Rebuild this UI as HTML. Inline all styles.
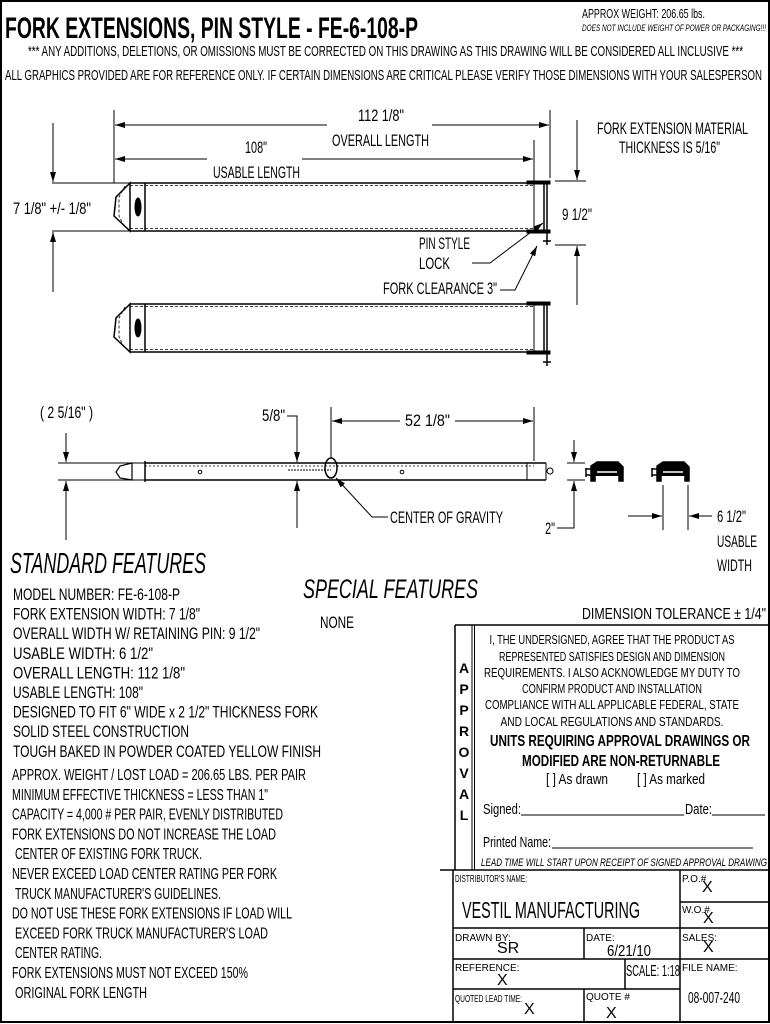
<!DOCTYPE html>
<html><head><meta charset="utf-8"><style>
html,body{margin:0;padding:0;background:#fff}
svg{display:block}
text{font-family:"Liberation Sans Narrow","Liberation Sans",sans-serif;fill:#000}
</style></head><body>
<svg width="770" height="1024" viewBox="0 0 770 1024" xmlns="http://www.w3.org/2000/svg">
<defs>
<marker id="a" viewBox="0 0 10 6" refX="10" refY="3" markerWidth="10" markerHeight="6" orient="auto-start-reverse" markerUnits="userSpaceOnUse"><path d="M0,0 L10,3 L0,6 z" fill="#000"/></marker>
</defs>
<rect x="1" y="1" width="768" height="1021" fill="none" stroke="#000" stroke-width="2"/>

<!-- header -->
<text x="5" y="38" font-size="30" font-weight="bold" textLength="413" lengthAdjust="spacingAndGlyphs">FORK EXTENSIONS, PIN STYLE - FE-6-108-P</text>
<text x="582" y="18" font-size="13" textLength="123" lengthAdjust="spacingAndGlyphs">APPROX WEIGHT: 206.65 lbs.</text>
<text x="582" y="31" font-size="9" font-style="italic" textLength="184" lengthAdjust="spacingAndGlyphs">DOES NOT INCLUDE WEIGHT OF POWER OR PACKAGING!!!</text>
<text x="28" y="56" font-size="15" textLength="715" lengthAdjust="spacingAndGlyphs">*** ANY ADDITIONS, DELETIONS, OR OMISSIONS MUST BE CORRECTED ON THIS DRAWING AS THIS DRAWING WILL BE CONSIDERED ALL INCLUSIVE ***</text>
<text x="5" y="80" font-size="15" textLength="757" lengthAdjust="spacingAndGlyphs">ALL GRAPHICS PROVIDED ARE FOR REFERENCE ONLY. IF CERTAIN DIMENSIONS ARE CRITICAL PLEASE VERIFY THOSE DIMENSIONS WITH YOUR SALESPERSON</text>

<g stroke="#000" fill="none" stroke-width="1">
<line x1="114" y1="110" x2="114" y2="183"/>
<line x1="550" y1="110" x2="550" y2="178"/>
<line x1="534" y1="140" x2="534" y2="183"/>
<line x1="327" y1="125" x2="115" y2="125" marker-end="url(#a)"/>
<line x1="432" y1="125" x2="549" y2="125" marker-end="url(#a)"/>
<line x1="207" y1="159" x2="115" y2="159" marker-end="url(#a)"/>
<line x1="302" y1="159" x2="533" y2="159" marker-end="url(#a)"/>
<line x1="52" y1="183" x2="130" y2="183"/>
<line x1="52" y1="231" x2="130" y2="231"/>
<line x1="53" y1="123" x2="53" y2="182" marker-end="url(#a)"/>
<line x1="53" y1="292" x2="53" y2="232" marker-end="url(#a)"/>
<line x1="555" y1="181" x2="586" y2="181"/>
<line x1="555" y1="245" x2="586" y2="245"/>
<line x1="577" y1="120" x2="577" y2="180" marker-end="url(#a)"/>
<line x1="577" y1="305" x2="577" y2="246" marker-end="url(#a)"/>
<polyline points="472,263 490,263 543,223" marker-end="url(#a)"/>
<polyline points="500,290 515,290 537,246" marker-end="url(#a)"/>
</g>

<g id="fork" stroke="#000" fill="none">
<polygon points="130,183 116,197 114,216 130,231" stroke-width="1.5"/>
<polyline points="125,186 119,197 119,216 125,228" stroke-width="0.8" stroke-dasharray="3,2"/>
<line x1="130" y1="183" x2="534" y2="183" stroke-width="1.5"/>
<line x1="130" y1="185.5" x2="534" y2="185.5" stroke-width="0.8" stroke-dasharray="3,2"/>
<line x1="130" y1="231" x2="534" y2="231" stroke-width="1.5"/>
<line x1="130" y1="228.5" x2="534" y2="228.5" stroke-width="0.8" stroke-dasharray="3,2"/>
<line x1="145" y1="183" x2="145" y2="231" stroke-width="1.5"/>
<ellipse cx="138" cy="207" rx="3" ry="9" fill="#000"/>
<line x1="534" y1="183" x2="534" y2="231" stroke-width="1"/>
<rect x="527" y="181" width="23" height="3" fill="#000"/>
<rect x="527" y="230" width="23" height="3" fill="#000"/>
<line x1="544" y1="181" x2="544" y2="233" stroke-width="1.5"/>
<line x1="547" y1="181" x2="547" y2="245" stroke-width="1.5"/>
<line x1="543" y1="241" x2="551" y2="241" stroke-width="1.5"/>
</g>
<use href="#fork" transform="translate(0,121)"/>

<g font-size="17">
<text x="358" y="121" textLength="46" lengthAdjust="spacingAndGlyphs">112 1/8"</text>
<text x="332" y="146" textLength="97" lengthAdjust="spacingAndGlyphs">OVERALL LENGTH</text>
<text x="245" y="153" textLength="22" lengthAdjust="spacingAndGlyphs">108"</text>
<text x="213" y="178" textLength="87" lengthAdjust="spacingAndGlyphs">USABLE LENGTH</text>
<text x="13" y="214" textLength="78" lengthAdjust="spacingAndGlyphs">7 1/8" +/- 1/8"</text>
<text x="562" y="220" textLength="30" lengthAdjust="spacingAndGlyphs">9 1/2"</text>
<text x="419" y="249" textLength="51" lengthAdjust="spacingAndGlyphs">PIN STYLE</text>
<text x="419" y="269" textLength="31" lengthAdjust="spacingAndGlyphs">LOCK</text>
<text x="383" y="294" textLength="114" lengthAdjust="spacingAndGlyphs">FORK CLEARANCE 3"</text>
<text x="597" y="134" textLength="151" lengthAdjust="spacingAndGlyphs">FORK EXTENSION MATERIAL</text>
<text x="619" y="153" textLength="101" lengthAdjust="spacingAndGlyphs">THICKNESS IS 5/16"</text>
</g>

<g stroke="#000" fill="none" stroke-width="1">
<line x1="58" y1="463" x2="145" y2="463"/>
<line x1="58" y1="480" x2="145" y2="480"/>
<line x1="66" y1="433" x2="66" y2="462" marker-end="url(#a)"/>
<line x1="66" y1="540" x2="66" y2="481" marker-end="url(#a)"/>
<polygon points="132,463 120,466 116,472 120,478 132,480" stroke-width="1.2"/>
<line x1="132" y1="463" x2="132" y2="480"/>
<line x1="145" y1="461" x2="145" y2="482" stroke-width="1.5"/>
<line x1="145" y1="463" x2="534" y2="463" stroke-width="1.5"/>
<line x1="145" y1="466" x2="534" y2="466" stroke-width="0.8" stroke-dasharray="2,2"/>
<line x1="145" y1="480" x2="546" y2="480" stroke-width="1.5"/>
<line x1="534" y1="463" x2="546" y2="463" stroke-width="1.5"/>
<line x1="527" y1="463" x2="527" y2="480"/>
<line x1="546" y1="463" x2="546" y2="480"/>
<circle cx="550" cy="471" r="3"/>
<circle cx="200" cy="472" r="1.8"/>
<circle cx="402" cy="472" r="1.8"/>
<line x1="288" y1="470" x2="331" y2="470" stroke-dasharray="2,1"/>
<ellipse cx="331" cy="468" rx="6" ry="10" stroke-width="1.5"/>
<polyline points="287,416 297,416 297,462" marker-end="url(#a)"/>
<line x1="297" y1="528" x2="297" y2="481" marker-end="url(#a)"/>
<line x1="331" y1="407" x2="331" y2="458"/>
<line x1="534" y1="407" x2="534" y2="461"/>
<line x1="400" y1="421" x2="332" y2="421" marker-end="url(#a)"/>
<line x1="455" y1="421" x2="533" y2="421" marker-end="url(#a)"/>
<polyline points="388,517 372,517 336,478" marker-end="url(#a)"/>
<line x1="567" y1="463" x2="585" y2="463"/>
<line x1="567" y1="480" x2="585" y2="480"/>
<line x1="574" y1="440" x2="574" y2="462" marker-end="url(#a)"/>
<polyline points="557,528 574,528 574,481" marker-end="url(#a)"/>
<line x1="663" y1="485" x2="663" y2="530"/>
<line x1="688" y1="485" x2="688" y2="530"/>
<line x1="628" y1="516" x2="662" y2="516" marker-end="url(#a)"/>
<line x1="712" y1="516" x2="689" y2="516" marker-end="url(#a)"/>
</g>
<g id="prof" stroke="#000" stroke-width="1.5">
<path d="M591,481 L591,466 L597,462 L618,462 L623,467 L623,481 L619,481 L619,468 L595,468 L595,481 Z" fill="#000"/>
<rect x="595" y="468" width="24" height="8" fill="#000" stroke="none"/>
<line x1="597" y1="472" x2="617" y2="472" stroke="#fff" stroke-width="1.5"/>
<line x1="586" y1="469" x2="592" y2="469"/>
<line x1="586" y1="475" x2="592" y2="475"/>
<line x1="586" y1="468" x2="586" y2="477"/>
</g>
<use href="#prof" transform="translate(66,0)"/>

<g font-size="17">
<text x="40" y="418" textLength="53" lengthAdjust="spacingAndGlyphs">( 2 5/16" )</text>
<text x="262" y="421" textLength="23" lengthAdjust="spacingAndGlyphs">5/8"</text>
<text x="405" y="426" textLength="45" lengthAdjust="spacingAndGlyphs">52 1/8"</text>
<text x="390" y="523" textLength="113" lengthAdjust="spacingAndGlyphs">CENTER OF GRAVITY</text>
<text x="545" y="534" textLength="10" lengthAdjust="spacingAndGlyphs">2"</text>
<text x="717" y="522" textLength="29" lengthAdjust="spacingAndGlyphs">6 1/2"</text>
<text x="717" y="547" textLength="40" lengthAdjust="spacingAndGlyphs">USABLE</text>
<text x="717" y="571" textLength="35" lengthAdjust="spacingAndGlyphs">WIDTH</text>
</g>

<text x="10" y="573" font-size="29" font-style="italic" textLength="196" lengthAdjust="spacingAndGlyphs">STANDARD FEATURES</text>
<text x="303" y="598" font-size="27" font-style="italic" textLength="175" lengthAdjust="spacingAndGlyphs">SPECIAL FEATURES</text>
<text x="320" y="628" font-size="17" textLength="34" lengthAdjust="spacingAndGlyphs">NONE</text>
<g font-size="17">
<text x="13" y="600" textLength="167" lengthAdjust="spacingAndGlyphs">MODEL NUMBER: FE-6-108-P</text>
<text x="13" y="619.6" textLength="187" lengthAdjust="spacingAndGlyphs">FORK EXTENSION WIDTH: 7 1/8"</text>
<text x="13" y="639.2" textLength="247" lengthAdjust="spacingAndGlyphs">OVERALL WIDTH W/ RETAINING PIN: 9 1/2"</text>
<text x="13" y="658.8" textLength="140" lengthAdjust="spacingAndGlyphs">USABLE WIDTH: 6 1/2"</text>
<text x="13" y="678.4" textLength="172" lengthAdjust="spacingAndGlyphs">OVERALL LENGTH: 112 1/8"</text>
<text x="13" y="698" textLength="130" lengthAdjust="spacingAndGlyphs">USABLE LENGTH: 108"</text>
<text x="13" y="717.6" textLength="305" lengthAdjust="spacingAndGlyphs">DESIGNED TO FIT 6" WIDE x 2 1/2" THICKNESS FORK</text>
<text x="13" y="737.2" textLength="176" lengthAdjust="spacingAndGlyphs">SOLID STEEL CONSTRUCTION</text>
<text x="13" y="757" textLength="308" lengthAdjust="spacingAndGlyphs">TOUGH BAKED IN POWDER COATED YELLOW FINISH</text>
</g>
<g font-size="16">
<text x="12" y="780" textLength="294" lengthAdjust="spacingAndGlyphs">APPROX. WEIGHT / LOST LOAD = 206.65 LBS. PER PAIR</text>
<text x="12" y="799.8" textLength="256" lengthAdjust="spacingAndGlyphs">MINIMUM EFFECTIVE THICKNESS = LESS THAN 1"</text>
<text x="12" y="819.6" textLength="271" lengthAdjust="spacingAndGlyphs">CAPACITY = 4,000 # PER PAIR, EVENLY DISTRIBUTED</text>
<text x="12" y="839.4" textLength="264" lengthAdjust="spacingAndGlyphs">FORK EXTENSIONS DO NOT INCREASE THE LOAD</text>
<text x="15" y="859.2" textLength="187" lengthAdjust="spacingAndGlyphs">CENTER OF EXISTING FORK TRUCK.</text>
<text x="12" y="879" textLength="265" lengthAdjust="spacingAndGlyphs">NEVER EXCEED LOAD CENTER RATING PER FORK</text>
<text x="15" y="898.8" textLength="206" lengthAdjust="spacingAndGlyphs">TRUCK MANUFACTURER'S GUIDELINES.</text>
<text x="12" y="918.6" textLength="280" lengthAdjust="spacingAndGlyphs">DO NOT USE THESE FORK EXTENSIONS IF LOAD WILL</text>
<text x="15" y="938.4" textLength="253" lengthAdjust="spacingAndGlyphs">EXCEED FORK TRUCK MANUFACTURER'S LOAD</text>
<text x="15" y="958.2" textLength="87" lengthAdjust="spacingAndGlyphs">CENTER RATING.</text>
<text x="12" y="978" textLength="236" lengthAdjust="spacingAndGlyphs">FORK EXTENSIONS MUST NOT EXCEED 150%</text>
<text x="15" y="997.8" textLength="132" lengthAdjust="spacingAndGlyphs">ORIGINAL FORK LENGTH</text>
</g>

<text x="582" y="619" font-size="16" textLength="184" lengthAdjust="spacingAndGlyphs">DIMENSION TOLERANCE ± 1/4"</text>
<g stroke="#000" fill="none" stroke-width="1.5">
<line x1="455" y1="625" x2="770" y2="625"/>
<line x1="455" y1="625" x2="455" y2="870"/>
<line x1="472" y1="625" x2="472" y2="870" stroke-width="1"/>
<line x1="474.5" y1="625" x2="474.5" y2="870" stroke-width="1"/>
<line x1="440" y1="870" x2="770" y2="870"/>
</g>
<g font-size="14" font-weight="bold" text-anchor="middle" font-family="Liberation Sans">
<text x="464" y="673">A</text><text x="464" y="694">P</text><text x="464" y="715">P</text><text x="464" y="736">R</text><text x="464" y="757">O</text><text x="464" y="778">V</text><text x="464" y="799">A</text><text x="464" y="820">L</text>
</g>
<g font-size="13" text-anchor="middle">
<text x="612" y="644" textLength="245" lengthAdjust="spacingAndGlyphs">I, THE UNDERSIGNED, AGREE THAT THE PRODUCT AS</text>
<text x="612" y="661" textLength="226" lengthAdjust="spacingAndGlyphs">REPRESENTED SATISFIES DESIGN AND DIMENSION</text>
<text x="612" y="677" textLength="256" lengthAdjust="spacingAndGlyphs">REQUIREMENTS.  I ALSO ACKNOWLEDGE MY DUTY TO</text>
<text x="612" y="693" textLength="180" lengthAdjust="spacingAndGlyphs">CONFIRM PRODUCT AND INSTALLATION</text>
<text x="612" y="709" textLength="254" lengthAdjust="spacingAndGlyphs">COMPLIANCE WITH ALL APPLICABLE FEDERAL, STATE</text>
<text x="612" y="726" textLength="223" lengthAdjust="spacingAndGlyphs">AND LOCAL REGULATIONS AND STANDARDS.</text>
</g>
<text x="490" y="746" font-size="16" font-weight="bold" textLength="260" lengthAdjust="spacingAndGlyphs">UNITS REQUIRING APPROVAL DRAWINGS OR</text>
<text x="522" y="766" font-size="16" font-weight="bold" textLength="198" lengthAdjust="spacingAndGlyphs">MODIFIED ARE NON-RETURNABLE</text>
<text x="546" y="784" font-size="15" textLength="62" lengthAdjust="spacingAndGlyphs">[  ] As drawn</text>
<text x="637" y="784" font-size="15" textLength="68" lengthAdjust="spacingAndGlyphs">[  ] As marked</text>
<text x="483" y="814" font-size="15" textLength="38" lengthAdjust="spacingAndGlyphs">Signed:</text>
<text x="685" y="814" font-size="15" textLength="27" lengthAdjust="spacingAndGlyphs">Date:</text>
<text x="483" y="847" font-size="15" textLength="68" lengthAdjust="spacingAndGlyphs">Printed Name:</text>
<g stroke="#000" stroke-width="1">
<line x1="521" y1="815" x2="684" y2="815"/>
<line x1="712" y1="815" x2="765" y2="815"/>
<line x1="552" y1="848" x2="753" y2="848"/>
</g>
<text x="481" y="866" font-size="11" font-style="italic" textLength="286" lengthAdjust="spacingAndGlyphs">LEAD TIME WILL START UPON RECEIPT OF SIGNED APPROVAL DRAWING</text>

<g stroke="#000" fill="none" stroke-width="1.5">
<line x1="453" y1="870" x2="453" y2="1022"/>
<line x1="680" y1="870" x2="680" y2="1022"/>
<line x1="680" y1="902" x2="770" y2="902"/>
<line x1="453" y1="928" x2="770" y2="928"/>
<line x1="453" y1="959" x2="770" y2="959"/>
<line x1="453" y1="989" x2="680" y2="989"/>
<line x1="584" y1="928" x2="584" y2="959"/>
<line x1="625" y1="959" x2="625" y2="989"/>
<line x1="584" y1="989" x2="584" y2="1022"/>
</g>
<g font-size="10">
<text x="455" y="882" textLength="72" lengthAdjust="spacingAndGlyphs">DISTRIBUTOR'S NAME:</text>
<text x="682" y="882">P.O.#</text>
<text x="682" y="913">W.O.#</text>
<text x="455" y="941">DRAWN BY:</text>
<text x="586" y="941">DATE:</text>
<text x="682" y="941">SALES:</text>
<text x="455" y="971">REFERENCE:</text>
<text x="682" y="971">FILE NAME:</text>
<text x="455" y="1002" textLength="67" lengthAdjust="spacingAndGlyphs">QUOTED LEAD TIME:</text>
<text x="586" y="1000">QUOTE #</text>
</g>
<text x="462" y="918" font-size="23" textLength="178" lengthAdjust="spacingAndGlyphs">VESTIL MANUFACTURING</text>
<g font-size="16">
<text x="702" y="892">X</text>
<text x="703" y="923">X</text>
<text x="497" y="953">SR</text>
<text x="607" y="956" textLength="44" lengthAdjust="spacingAndGlyphs">6/21/10</text>
<text x="703" y="952">X</text>
<text x="497" y="985">X</text>
<text x="626" y="976" textLength="54" lengthAdjust="spacingAndGlyphs">SCALE: 1:18</text>
<text x="688" y="1003" textLength="52" lengthAdjust="spacingAndGlyphs">08-007-240</text>
<text x="524" y="1014">X</text>
<text x="606" y="1018">X</text>
</g>
</svg>
</body></html>
